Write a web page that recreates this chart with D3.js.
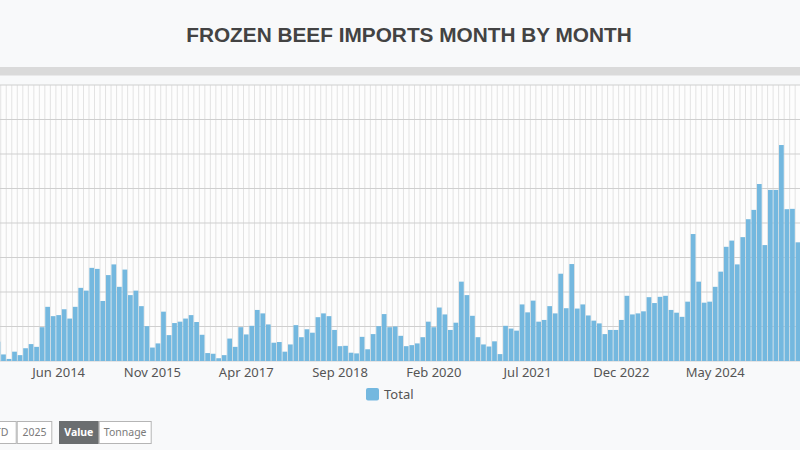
<!DOCTYPE html>
<html>
<head>
<meta charset="utf-8">
<script src="https://cdn.jsdelivr.net/npm/d3@7"></script>
<style>
  html, body { margin: 0; padding: 0; background: #f8f9fa; overflow: hidden; }
  svg { display: block; }
</style>
</head>
<body>
<svg id="chart" width="800" height="450"></svg>
<script>
// ---- Data (relative units: one horizontal gridline = 10) ----
const startYear = 2013;            // first category: Jan 2013
const monthNames = ["Jan","Feb","Mar","Apr","May","Jun","Jul","Aug","Sep","Oct","Nov","Dec"];
const monthCount = 152;            // Jan 2013 .. Aug 2025
const firstDataIndex = 6;          // values start at Jul 2013 (earlier months not visible)
const values = [
  // 2013 Jul-Dec
  5.6, 1.9, 0.6, 2.7, 1.7, 3.7,
  // 2014
  4.9, 4.1, 9.8, 15.7, 13.0, 13.3, 15.0, 12.3, 15.7, 21.2, 20.4, 27.0,
  // 2015
  26.7, 17.4, 24.9, 28.0, 21.5, 26.5, 19.1, 20.4, 15.9, 10.1, 3.9, 5.1,
  // 2016
  14.3, 7.5, 11.0, 11.4, 12.3, 13.3, 11.3, 7.6, 2.3, 2.1, 0.8, 1.7,
  // 2017
  6.5, 4.1, 9.8, 7.7, 10.2, 14.8, 13.8, 10.6, 5.3, 5.5, 2.7, 4.8,
  // 2018
  10.4, 6.9, 9.2, 8.2, 12.7, 13.8, 13.0, 9.0, 4.3, 4.4, 2.4, 2.2,
  // 2019
  7.0, 3.4, 7.8, 10.1, 13.6, 9.8, 10.0, 7.3, 4.3, 4.6, 5.1, 6.9,
  // 2020
  11.4, 9.8, 15.5, 13.5, 9.0, 11.1, 23.0, 19.1, 13.1, 6.9, 4.8, 4.2,
  // 2021
  5.7, 2.0, 10.2, 9.4, 8.8, 16.4, 14.1, 17.5, 11.4, 11.9, 15.9, 13.8,
  // 2022
  25.3, 15.3, 28.1, 15.2, 16.4, 13.2, 11.7, 10.9, 7.8, 9.0, 9.0, 11.9,
  // 2023
  18.9, 13.5, 13.8, 14.4, 18.5, 16.8, 18.6, 18.9, 14.8, 14.0, 12.8, 17.2,
  // 2024
  36.8, 23.0, 16.9, 17.2, 21.5, 25.9, 33.1, 34.9, 28.0, 35.9, 41.1, 43.8,
  // 2025 Jan-Aug
  51.3, 33.6, 49.6, 49.6, 62.6, 44.0, 44.1, 34.4
];
const tickLabels = ["Jun 2014","Nov 2015","Apr 2017","Sep 2018","Feb 2020","Jul 2021","Dec 2022","May 2024"];
const yTicks = [0, 10, 20, 30, 40, 50, 60, 70, 80];
const seriesName = "Total";
const titleText = "FROZEN BEEF IMPORTS MONTH BY MONTH";
const periodButtons = ["YTD", "2025"];
const measureButtons = ["Value", "Tonnage"];

// ---- Build categories ----
const categories = d3.range(monthCount).map(i =>
  monthNames[i % 12] + " " + (startYear + Math.floor(i / 12)));
const data = values.map((v, k) => ({ cat: categories[firstDataIndex + k], value: v }));

// ---- Layout ----
const svg = d3.select("#chart");
const W = 800;
const plot = { left: -37.9, right: 800.7, top: 85, bottom: 361 };
const barColor = "#74b8df";

const x = d3.scaleBand().domain(categories).range([plot.left, plot.right]).padding(0);
const y = d3.scaleLinear().domain([0, 80]).range([plot.bottom, plot.top]);
const bw = x.bandwidth();

// Title
svg.append("text")
  .attr("x", 409).attr("y", 42)
  .attr("text-anchor", "middle")
  .attr("font-family", "Liberation Sans, Arial, sans-serif")
  .attr("font-weight", "bold")
  .attr("font-size", 20.8)
  .attr("fill", "#434343")
  .text(titleText);

// Gray band
svg.append("rect").attr("x", 0).attr("y", 67).attr("width", W).attr("height", 8.5).attr("fill", "#dadada");

// Plot background
svg.append("rect").attr("x", 0).attr("y", plot.top).attr("width", W)
  .attr("height", plot.bottom - plot.top).attr("fill", "#fdfdfd");

// Vertical gridlines (category boundaries)
svg.append("g").selectAll("line").data(categories).join("line")
  .attr("x1", d => x(d)).attr("x2", d => x(d))
  .attr("y1", plot.top).attr("y2", plot.bottom)
  .attr("stroke", "#e3e3e3").attr("stroke-width", 1);

// Horizontal gridlines
svg.append("g").selectAll("line").data(yTicks).join("line")
  .attr("x1", 0).attr("x2", W)
  .attr("y1", d => y(d)).attr("y2", d => y(d))
  .attr("stroke", "#cfcfcf").attr("stroke-width", 1);

// Bars
svg.append("g").selectAll("rect").data(data).join("rect")
  .attr("x", d => x(d.cat) + bw * 0.07)
  .attr("width", bw * 0.86)
  .attr("y", d => y(d.value))
  .attr("height", d => y(0) - y(d.value))
  .attr("fill", barColor);

// X axis labels via d3 axis
const xAxis = d3.axisBottom(x).tickValues(tickLabels).tickSize(0).tickPadding(0);
const gx = svg.append("g").attr("transform", `translate(0,${plot.bottom})`).call(xAxis);
gx.select(".domain").remove();
gx.selectAll("text")
  .attr("y", 16).attr("dy", 0)
  .attr("font-family", "Noto Sans, Open Sans, sans-serif")
  .attr("font-size", 13)
  .attr("fill", "#555");

// Legend
svg.append("rect").attr("x", 366).attr("y", 388).attr("width", 13).attr("height", 12.5)
  .attr("rx", 2).attr("fill", barColor);
svg.append("text").attr("x", 384).attr("y", 398.5)
  .attr("font-family", "Noto Sans, Open Sans, sans-serif").attr("font-size", 13)
  .attr("fill", "#555").text(seriesName);

// Buttons
function buttonGroup(labels, x0, widths, activeIdx) {
  let cx = x0;
  labels.forEach((lab, i) => {
    const w = widths[i];
    const active = i === activeIdx;
    svg.append("rect").attr("x", cx + 0.5).attr("y", 421.5).attr("width", w - 1).attr("height", 22)
      .attr("fill", active ? "#6b6e70" : "#ffffff")
      .attr("stroke", active ? "#6b6e70" : "#b5b5b5");
    svg.append("text").attr("x", cx + w / 2).attr("y", 436)
      .attr("text-anchor", "middle")
      .attr("font-family", "Noto Sans, Open Sans, sans-serif")
      .attr("font-size", 10.5)
      .attr("font-weight", active ? "bold" : "normal")
      .attr("fill", active ? "#ffffff" : "#7a7a7a")
      .text(lab);
    cx += w;
  });
}
buttonGroup(periodButtons, -19.5, [36.2, 35.6], -1);
buttonGroup(measureButtons, 59, [39.7, 53], 0);
</script>
</body>
</html>
